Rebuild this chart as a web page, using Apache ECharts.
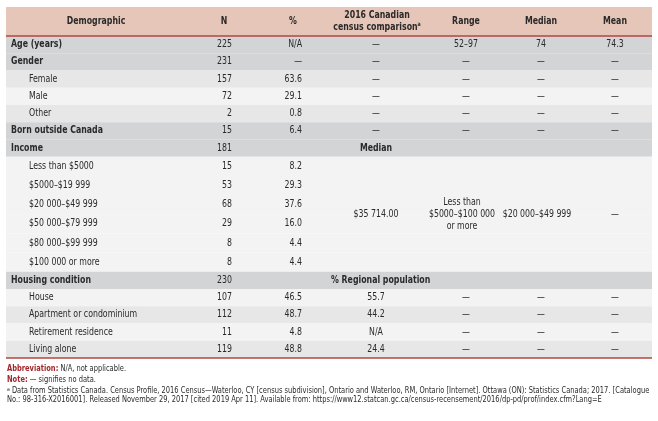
<!DOCTYPE html>
<html>
<head>
<meta charset="utf-8">
<script src="https://cdn.jsdelivr.net/npm/echarts@6/dist/echarts.min.js"></script>
<style>
  html, body { margin: 0; padding: 0; background: #ffffff; }
  #chart { width: 658px; height: 421px; }
</style>
</head>
<body>
<div id="chart"></div>
<script>
// table content
const columns = ['Demographic', 'N', '%', '2016 Canadian\ncensus comparison{sup|a}', 'Range', 'Median', 'Mean'];
const rowLabels = ['Age (years)', 'Gender', 'Female', 'Male', 'Other', 'Born outside Canada', 'Income',
    'Less than $5000', '$5000–$19 999', '$20 000–$49 999', '$50 000–$79 999', '$80 000–$99 999', '$100 000 or more',
    'Housing condition', 'House', 'Apartment or condominium', 'Retirement residence', 'Living alone'];
const rowLevels = [0, 0, 1, 1, 1, 0, 0, 1, 1, 1, 1, 1, 1, 0, 1, 1, 1, 1];
const nValues = ['225', '231', '157', '72', '2', '15', '181', '15', '53', '68', '29', '8', '8', '230', '107', '112', '11', '119'];
const pctValues = ['N/A', '—', '63.6', '29.1', '0.8', '6.4', '', '8.2', '29.3', '37.6', '16.0', '4.4', '4.4', '', '46.5', '48.7', '4.8', '48.8'];
const censusValues = ['—', '—', '—', '—', '—', '—', 'Median', '', '', '', '', '', '', '% Regional population', '55.7', '44.2', 'N/A', '24.4'];
const rangeValues = ['52–97', '—', '—', '—', '—', '—', '', '', '', '', '', '', '', '', '—', '—', '—', '—'];
const medianValues = ['74', '—', '—', '—', '—', '—', '', '', '', '', '', '', '', '', '—', '—', '—', '—'];
const meanValues = ['74.3', '—', '—', '—', '—', '—', '', '', '', '', '', '', '', '', '—', '—', '—', '—'];
// merged cells of the income block (census, range, median, mean)
const incomeSummary = ['$35 714.00', 'Less than\n$5000–$100 000\nor more', '$20 000–$49 999', '—'];
const incomeRows = [7, 12];
const footLines = [
    '{r|Abbreviation:} N/A, not applicable.',
    '{r|Note:} — signifies no data.',
    '{sup|a} Data from Statistics Canada. Census Profile, 2016 Census—Waterloo, CY [census subdivision], Ontario and Waterloo, RM, Ontario [Internet]. Ottawa (ON): Statistics Canada; 2017. [Catalogue',
    'No.: 98-316-X2016001]. Released November 29, 2017 [cited 2019 Apr 11]. Available from: https://www12.statcan.gc.ca/census-recensement/2016/dp-pd/prof/index.cfm?Lang=E'
];

// layout / style
const FONT = "'DejaVu Sans Condensed', 'Liberation Sans Narrow', sans-serif";
const TEXT = '#2a2a2a';
const RED = '#b4463f';
const NARROW = 0.87;
const tableLeft = 6, tableRight = 652, headTop = 7, headBottom = 36;
const headX = [96, 224, 293, 377, 466, 541, 615];
const colX = { label: 11, sub: 29, n: 232, pct: 302, census: 376, range: 462, median: 537, mean: 615, regional: 331 };
const rowShade = ['cat', 'cat', 'alt', 'light', 'alt', 'cat', 'cat', 'light', 'light', 'light', 'light', 'light', 'light',
    'cat', 'light', 'alt', 'light', 'alt'];
const shadeColor = { cat: '#d3d4d6', alt: '#e7e7e8', light: '#f3f3f3' };
const footY = [369, 380, 390.5, 400];

const rowTops = [];
let y = headBottom;
rowLabels.forEach((_, i) => {
    const h = (i >= incomeRows[0] && i <= incomeRows[1]) ? 19.17 : 17.25;
    rowTops.push([y, y + h, i]);
    y += h;
});

function txt(x, yy, text, opt) {
    return {
        type: 'text', x: x, y: yy, scaleX: NARROW,
        style: Object.assign({
            text: text, fill: TEXT, fontFamily: FONT, fontSize: 10,
            align: 'center', verticalAlign: 'middle'
        }, opt || {})
    };
}

const chart = echarts.init(document.getElementById('chart'), null, { renderer: 'canvas' });
chart.setOption({
    animation: false,
    grid: { left: 0, right: 0, top: 0, bottom: 0 },
    xAxis: { type: 'value', min: 0, max: 658, show: false },
    yAxis: { type: 'value', min: 0, max: 421, inverse: true, show: false },
    series: [
        {
            // body rows
            type: 'custom',
            coordinateSystem: 'cartesian2d',
            data: rowTops,
            renderItem: function (params, api) {
                const i = api.value(2);
                const p0 = api.coord([tableLeft, api.value(0)]);
                const p1 = api.coord([tableRight, api.value(1)]);
                const cy = (p0[1] + p1[1]) / 2;
                const X = k => api.coord([colX[k], 0])[0];
                const bold = rowLevels[i] === 0;
                const children = [
                    { type: 'rect', shape: { x: p0[0], y: p0[1], width: p1[0] - p0[0], height: p1[1] - p0[1] },
                      style: { fill: shadeColor[rowShade[i]] } },
                    txt(X(bold ? 'label' : 'sub'), cy, rowLabels[i], { align: 'left', fontWeight: bold ? 'bold' : 'normal' }),
                    txt(X('n'), cy, nValues[i], { align: 'right' }),
                    txt(X('pct'), cy, pctValues[i], { align: 'right' })
                ];
                if (censusValues[i] === 'Median') {
                    children.push(txt(X('census'), cy, censusValues[i], { fontWeight: 'bold' }));
                } else if (censusValues[i].charAt(0) === '%') {
                    children.push(txt(X('regional'), cy, censusValues[i], { fontWeight: 'bold', align: 'left' }));
                } else {
                    children.push(txt(X('census'), cy, censusValues[i]));
                }
                children.push(txt(api.coord([headX[4], 0])[0], cy, rangeValues[i]));
                children.push(txt(api.coord([headX[5], 0])[0], cy, medianValues[i]));
                children.push(txt(X('mean'), cy, meanValues[i]));
                if (i === rowLabels.length - 1) {
                    children.push({ type: 'line', shape: { x1: p0[0], y1: p1[1], x2: p1[0], y2: p1[1] },
                        style: { stroke: RED, lineWidth: 1.5 } });
                }
                return { type: 'group', children: children };
            }
        },
        {
            // merged income cells
            type: 'custom',
            coordinateSystem: 'cartesian2d',
            data: [[rowTops[incomeRows[0]][0], rowTops[incomeRows[1]][1]]],
            renderItem: function (params, api) {
                const cy = (api.coord([0, api.value(0)])[1] + api.coord([0, api.value(1)])[1]) / 2;
                const xs = ['census', 'range', 'median', 'mean'].map(k => api.coord([colX[k], 0])[0]);
                return {
                    type: 'group',
                    children: incomeSummary.map((t, k) => txt(xs[k], cy, t, { lineHeight: 12 }))
                };
            }
        },
        {
            // header
            type: 'custom',
            coordinateSystem: 'cartesian2d',
            data: [[headTop, headBottom]],
            renderItem: function (params, api) {
                const p0 = api.coord([tableLeft, api.value(0)]);
                const p1 = api.coord([tableRight, api.value(1)]);
                const cy = (p0[1] + p1[1]) / 2;
                const children = [
                    { type: 'rect', shape: { x: p0[0], y: p0[1], width: p1[0] - p0[0], height: p1[1] - p0[1] },
                      style: { fill: '#e5c6b8' } },
                    { type: 'line', shape: { x1: p0[0], y1: p1[1], x2: p1[0], y2: p1[1] },
                      style: { stroke: RED, lineWidth: 1.5 } }
                ];
                columns.forEach((c, k) => {
                    children.push(txt(api.coord([headX[k], 0])[0], cy, c, {
                        fontWeight: 'bold', lineHeight: 12,
                        rich: { sup: { fontSize: 6, fontWeight: 'bold', fontFamily: FONT, fill: TEXT, verticalAlign: 'top', lineHeight: 12 } }
                    }));
                });
                return { type: 'group', children: children };
            }
        }
    ],
    graphic: footLines.map((t, k) => ({
        type: 'text', x: 7, y: footY[k], scaleX: 0.93,
        style: {
            text: t, fill: TEXT, fontFamily: FONT, fontSize: 8, align: 'left', verticalAlign: 'middle',
            rich: {
                r: { fill: '#a3262a', fontWeight: 'bold', fontFamily: FONT, fontSize: 8 },
                sup: { fill: TEXT, fontFamily: FONT, fontSize: 5.5, verticalAlign: 'top' }
            }
        }
    }))
});
</script>
</body>
</html>
